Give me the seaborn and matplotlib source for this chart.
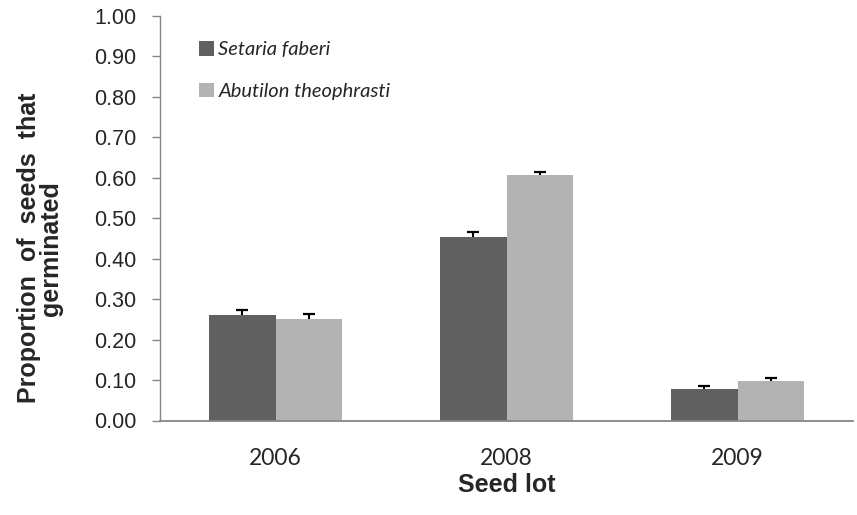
import matplotlib
matplotlib.use("Agg")
import matplotlib.pyplot as plt
import seaborn as sns
import pandas as pd
import numpy as np
from matplotlib.patches import Patch

years = ["2006", "2008", "2009"]
species = ["Setaria faberi", "Abutilon theophrasti"]
setaria = [0.261, 0.453, 0.077]
abutilon = [0.250, 0.607, 0.097]
setaria_err = [0.012, 0.013, 0.009]
abutilon_err = [0.013, 0.007, 0.009]
yticks = [0.0, 0.1, 0.2, 0.3, 0.4, 0.5, 0.6, 0.7, 0.8, 0.9, 1.0]
colors = ["#606060", "#b3b3b3"]

df = pd.DataFrame({
    "year": years * 2,
    "species": [species[0]] * 3 + [species[1]] * 3,
    "value": setaria + abutilon,
})

sns.set_style("white")
fig = plt.figure(figsize=(8.57, 5.15), dpi=100)
ax = fig.add_axes([160/857, 1 - 420.5/515, 693/857, 404.5/515])

sns.barplot(data=df, x="year", y="value", hue="species", palette=colors,
            width=0.58, errorbar=None, ax=ax, legend=False, saturation=1,
            linewidth=0)

errs = [setaria_err, abutilon_err]
for cont, err in zip(ax.containers, errs):
    xs = np.array([p.get_x() + p.get_width() / 2 for p in cont.patches])
    hs = np.array([p.get_height() for p in cont.patches])
    tops = hs + np.array(err)
    ax.vlines(xs, hs, tops, colors="black", linewidth=1.5, zorder=5)
    ax.hlines(tops, xs - 0.025, xs + 0.025, colors="black", linewidth=1.6, zorder=5)

ax.set_ylim(0, 1)
ax.set_xlim(-0.5, 2.5)
ax.set_yticks(yticks)
ax.set_yticklabels([f"{v:.2f}" for v in yticks], fontfamily="Liberation Sans", fontsize=15.5)
ax.set_xticks(range(3))
ax.set_xticklabels(years, fontfamily="Lato", fontsize=16.5)
ax.set_xticks([-0.5, 0.5, 1.5, 2.5], minor=True)
ax.tick_params(axis="x", which="major", length=0, pad=20)
ax.tick_params(axis="x", which="minor", length=5, width=1, color="#868686", direction="out")
ax.tick_params(axis="y", length=6, width=1, color="#868686", direction="out", left=True, pad=11)

for s in ["top", "right"]:
    ax.spines[s].set_visible(False)
ax.spines["left"].set_color("#868686")
ax.spines["left"].set_linewidth(1)
ax.spines["bottom"].set_color("#868686")
ax.spines["bottom"].set_linewidth(1.3)

ax.set_xlabel("Seed lot", fontfamily="Liberation Sans", fontweight="bold", fontsize=18, labelpad=3)
ax.set_ylabel("Proportion  of  seeds  that\ngerminated", fontfamily="Liberation Sans",
              fontweight="bold", fontsize=18, linespacing=0.9)
ax.yaxis.set_label_coords(-0.14, 0.426)

handles = [Patch(facecolor=c, edgecolor="none") for c in colors]
leg = ax.legend(handles, species, loc="upper left", bbox_to_anchor=(0.045, 0.958),
                frameon=False, prop={"family": "Lato", "style": "italic", "size": 14.5},
                handlelength=0.75, handleheight=0.75, handletextpad=0.2, labelspacing=1.2,
                borderaxespad=0)

fig.savefig("out.png", dpi=100)
